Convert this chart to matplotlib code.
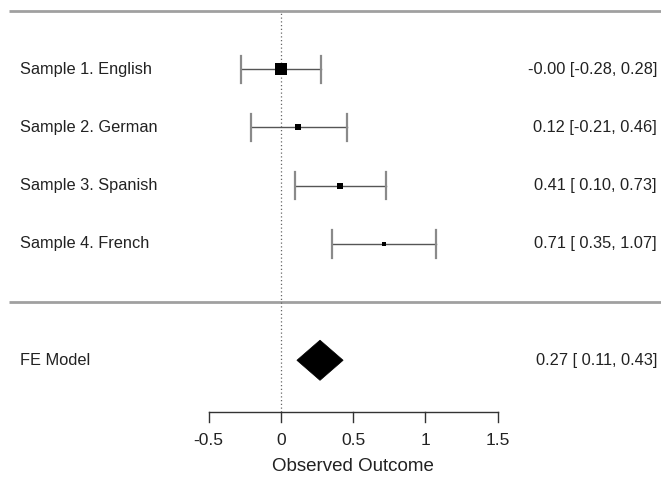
import matplotlib
matplotlib.use("Agg")
import matplotlib.pyplot as plt
from matplotlib.patches import Polygon

plt.rcParams['font.family'] = ['Liberation Sans', 'DejaVu Sans']

# study data
studies = ['Sample 1. English', 'Sample 2. German', 'Sample 3. Spanish', 'Sample 4. French']
estimates = [-0.00, 0.12, 0.41, 0.71]
ci_lower = [-0.28, -0.21, 0.10, 0.35]
ci_upper = [0.28, 0.46, 0.73, 1.07]
square_sizes = [11, 5, 6.5, 4]  # marker size in points, ~ study weight

# fixed effects summary
fe_label = 'FE Model'
fe_est = 0.27
fe_lower = 0.11
fe_upper = 0.43

xticks = [-0.5, 0, 0.5, 1, 1.5]
xtick_labels = ['-0.5', '0', '0.5', '1', '1.5']

fig = plt.figure(figsize=(6.61, 4.79), dpi=100)
ax = fig.add_axes([0, 0, 1, 1])
ax.set_xlim(-1.9446, 2.6298)
ax.set_ylim(-3.04, 5.19)
ax.axis('off')

text_col = '#222222'
k = len(studies)
rows = list(range(k, 0, -1))

# top and separator lines
ax.plot([-1.882, 2.7], [k + 1, k + 1], color='#a0a0a0', lw=2, solid_capstyle='butt')
ax.plot([-1.882, 2.7], [0, 0], color='#a0a0a0', lw=2, solid_capstyle='butt')

# reference line at 0
axis_y = -1.883
ax.plot([0, 0], [axis_y, k + 1], color='#666666', lw=0.9, linestyle=(0, (1, 2)))

# studies
cap_h = 0.235
for i in range(k):
    y = rows[i]
    ax.plot([ci_lower[i], ci_upper[i]], [y, y], color='#555555', lw=1.0)
    for xv in (ci_lower[i], ci_upper[i]):
        ax.plot([xv, xv], [y - cap_h, y + cap_h], color='#8a8a8a', lw=1.6)
    ax.plot(estimates[i], y, marker='s', color='black', markersize=square_sizes[i] * 0.75,
            markeredgewidth=0)
    ax.text(-1.806, y, studies[i], ha='left', va='center', fontsize=11.8, color=text_col)
    ax.text(2.602, y, '%.2f [%5.2f, %.2f]' % (estimates[i], ci_lower[i], ci_upper[i]),
            ha='right', va='center', fontsize=11.8, color=text_col)

# summary diamond
fe_y = -1
dh = 0.345
diamond = Polygon([[fe_lower, fe_y], [fe_est, fe_y + dh], [fe_upper, fe_y], [fe_est, fe_y - dh]],
                  closed=True, facecolor='black', edgecolor='black', lw=0.5)
ax.add_patch(diamond)
ax.text(-1.806, fe_y, fe_label, ha='left', va='center', fontsize=11.8, color=text_col)
ax.text(2.602, fe_y, '%.2f [%5.2f, %.2f]' % (fe_est, fe_lower, fe_upper),
        ha='right', va='center', fontsize=11.8, color=text_col)

# x axis drawn by hand
tick_len = 0.172
ax.plot([xticks[0], xticks[-1]], [axis_y, axis_y], color='#333333', lw=1.0)
for t, lab in zip(xticks, xtick_labels):
    ax.plot([t, t], [axis_y, axis_y - tick_len], color='#333333', lw=1.0)
    ax.text(t, -2.37, lab, ha='center', va='center', fontsize=12.5, color=text_col)
ax.text(0.5, -2.83, 'Observed Outcome', ha='center', va='center', fontsize=13.5, color=text_col)

fig.savefig('out.png', dpi=100)
